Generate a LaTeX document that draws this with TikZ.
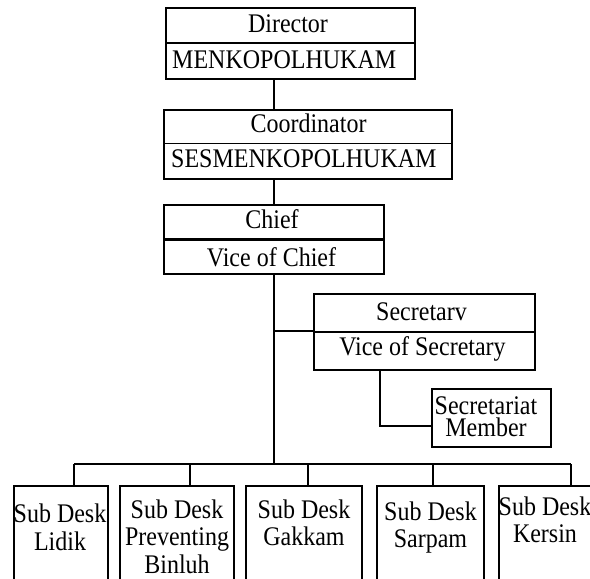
\documentclass[tikz,border=0pt]{standalone}
\usepackage{fontspec}
\setmainfont{Liberation Serif}
\newcommand{\tx}[1]{\scalebox{1}[1.12]{#1}}
\begin{document}
\begin{tikzpicture}[x=1pt,y=-1pt,
  box/.style={draw, line width=1.2pt, inner sep=0pt, rectangle},
  txt/.style={font=\fontsize{24}{27.5}\selectfont, inner sep=0pt, align=center},
  conn/.style={line width=1.2pt}]
\useasboundingbox (0,0) rectangle (590,579);
\clip (0,0) rectangle (590,579);
% Director
\node[box, minimum width=249, minimum height=35] (dirt) at (290.5,25.5) {};
\node[box, minimum width=249, minimum height=36] (dirb) at (290.5,61) {};
\node[txt, anchor=base] (dirtx) at (288,32) {\tx{Director}};
\node[txt, anchor=base west] (dirbx) at (172,68) {\tx{MENKOPOLHUKAM}};
% Coordinator
\node[box, minimum width=288, minimum height=33.5] (coordt) at (308,126.75) {};
\node[box, minimum width=288, minimum height=35.5] (coordb) at (308,161.25) {};
\node[txt, anchor=base] (coordtx) at (308.5,132) {\tx{Coordinator}};
\node[txt, anchor=base west] (coordbx) at (171,167) {\tx{SESMENKOPOLHUKAM}};
% Chief
\node[box, minimum width=220, minimum height=34] (chieft) at (274,222) {};
\node[box, minimum width=220, minimum height=33.5] (chiefb) at (274,257.25) {};
\draw[line width=2.5pt] (chieft.south west) -- (chieft.south east);
\node[txt, anchor=base] (chieftx) at (272,228) {\tx{Chief}};
\node[txt, anchor=base] (chiefbx) at (271.5,266) {\tx{Vice of Chief}};
% Secretary
\node[box, minimum width=221, minimum height=38] (sect) at (424.5,313) {};
\node[box, minimum width=221, minimum height=38] (secb) at (424.5,351) {};
\node[txt, anchor=base] (sectx) at (421.5,320) {\tx{Secretarv}};
\node[txt, anchor=base] (secbx) at (422.5,355) {\tx{Vice of Secretary}};
% Secretariat member
\node[box, minimum width=119, minimum height=58] (member) at (491.5,418) {};
\node[txt, font=\fontsize{24}{22}\selectfont, anchor=north] (membertx) at (486,396.6) {\tx{Secretariat}\\\tx{Member}};
% Sub desks
\node[box, minimum width=94, minimum height=130] (d1) at (61,551) {};
\node[box, minimum width=114, minimum height=130] (d2) at (177,551) {};
\node[box, minimum width=116, minimum height=130] (d3) at (304,551) {};
\node[box, minimum width=107, minimum height=130] (d4) at (430.5,551) {};
\node[box, minimum width=110, minimum height=130] (d5) at (554,551) {};
\node[txt, anchor=north, font=\fontsize{24}{28}\selectfont] (d1x) at (60,503.6) {\tx{Sub Desk}\\\tx{Lidik}};
\node[txt, anchor=north] (d2x) at (177,499.6) {\tx{Sub Desk}\\\tx{Preventing}\\\tx{Binluh}};
\node[txt, anchor=north] (d3x) at (304,499.6) {\tx{Sub Desk}\\\tx{Gakkam}};
\node[txt, anchor=north] (d4x) at (430.5,501.6) {\tx{Sub Desk}\\\tx{Sarpam}};
\node[txt, anchor=north] (d5x) at (545,496.6) {\tx{Sub Desk}\\\tx{Kersin}};
% connectors
\coordinate (sj) at (274,331);
\coordinate (busj) at (274,464);
\coordinate (b1) at (74,464);
\coordinate (b2) at (190,464);
\coordinate (b3) at (308,464);
\coordinate (b4) at (433,464);
\coordinate (b5) at (571,464);
\draw[conn] (dirb.south -| chieft.north) -- (coordt.north -| chieft.north);
\draw[conn] (coordb.south -| chieft.north) -- (chieft.north);
\draw[conn] (chiefb.south) -- (busj);
\draw[conn] (sj) -- (sj -| sect.west);
\draw[conn] ([xshift=-44.5pt]secb.south) |- ([yshift=-8pt]member.west);
\draw[conn] (b1) -- (b5);
\draw[conn] (b1) -- (b1 |- d1.north);
\draw[conn] (b2) -- (b2 |- d2.north);
\draw[conn] (b3) -- (b3 |- d3.north);
\draw[conn] (b4) -- (b4 |- d4.north);
\draw[conn] (b5) -- (b5 |- d5.north);
\end{tikzpicture}
\end{document}
